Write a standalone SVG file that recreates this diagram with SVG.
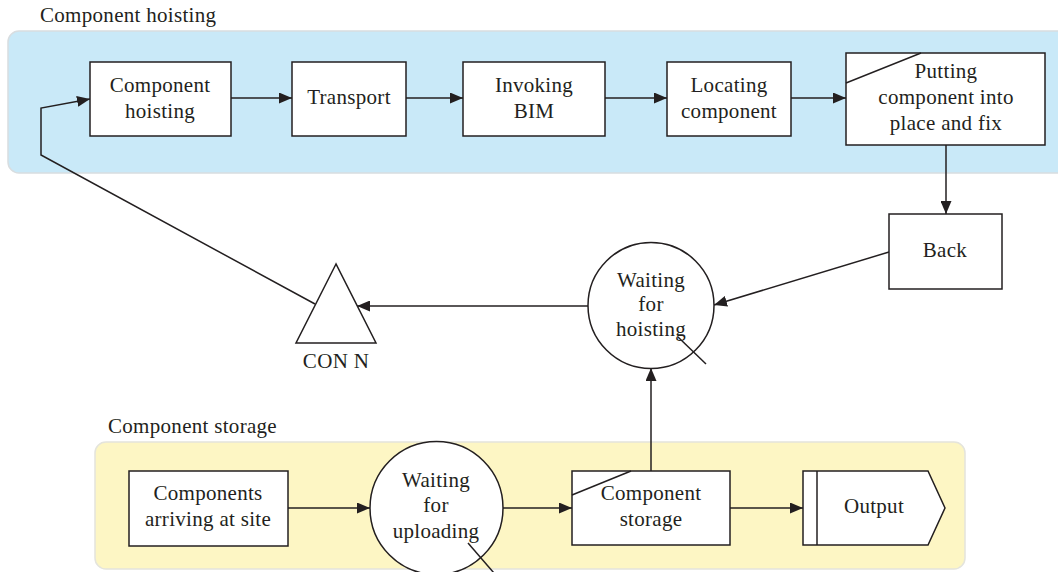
<svg xmlns="http://www.w3.org/2000/svg" width="1058" height="572" viewBox="0 0 1058 572">
  <style>
    .panel-blue { fill: #c9e9f8; stroke: #d8dde0; stroke-width: 1.5; }
    .panel-yellow { fill: #fdf6c4; stroke: #e4e4dc; stroke-width: 1.5; }
    .node { fill: #ffffff; stroke: #231f20; stroke-width: 1.5; }
    .line { fill: none; stroke: #231f20; stroke-width: 1.5; }
    .label { font-family: "Liberation Serif", "DejaVu Serif", serif; font-size: 21px; letter-spacing: 0.3px; fill: #231f20; text-anchor: middle; }
    .title { font-family: "Liberation Serif", "DejaVu Serif", serif; font-size: 21px; letter-spacing: 0.3px; fill: #231f20; }
  </style>
  <defs>
    <marker id="arrow" viewBox="0 0 13 11" refX="13" refY="5.5" markerWidth="13" markerHeight="11" markerUnits="userSpaceOnUse" orient="auto">
      <path d="M0,0 L13,5.5 L0,11 Z" fill="#231f20"/>
    </marker>
  </defs>

  <!-- swimlane panels -->
  <g id="panels">
    <rect class="panel-blue" x="8" y="31" width="1070" height="142" rx="11"/>
    <text class="title" x="40" y="22">Component hoisting</text>
    <rect class="panel-yellow" x="95" y="442" width="870" height="127" rx="11"/>
    <text class="title" x="108" y="433">Component storage</text>
  </g>

  <!-- connectors -->
  <g id="connectors">
    <line class="line" x1="231" y1="98" x2="292" y2="98" marker-end="url(#arrow)"/>
    <line class="line" x1="406" y1="98" x2="463" y2="98" marker-end="url(#arrow)"/>
    <line class="line" x1="605" y1="98" x2="667" y2="98" marker-end="url(#arrow)"/>
    <line class="line" x1="791" y1="98" x2="846" y2="98" marker-end="url(#arrow)"/>
    <line class="line" x1="946" y1="145" x2="946" y2="214" marker-end="url(#arrow)"/>
    <line class="line" x1="889" y1="252" x2="714" y2="305" marker-end="url(#arrow)"/>
    <line class="line" x1="588" y1="306" x2="357" y2="306" marker-end="url(#arrow)"/>
    <polyline class="line" points="315,304 41,155 41,108 90,99" marker-end="url(#arrow)"/>
    <line class="line" x1="651" y1="471" x2="651" y2="368" marker-end="url(#arrow)"/>
    <line class="line" x1="288" y1="508" x2="370" y2="508" marker-end="url(#arrow)"/>
    <line class="line" x1="503" y1="508" x2="572" y2="508" marker-end="url(#arrow)"/>
    <line class="line" x1="730" y1="508" x2="803" y2="508" marker-end="url(#arrow)"/>
  </g>

  <!-- hoisting lane -->
  <g id="component-hoisting">
    <rect class="node" x="90" y="62" width="141" height="74"/>
    <text class="label" x="160" y="92">Component</text>
    <text class="label" x="160" y="118">hoisting</text>
  </g>
  <g id="transport">
    <rect class="node" x="292" y="62" width="114" height="74"/>
    <text class="label" x="349" y="104">Transport</text>
  </g>
  <g id="invoking-bim">
    <rect class="node" x="463" y="62" width="142" height="74"/>
    <text class="label" x="534" y="92">Invoking</text>
    <text class="label" x="534" y="118">BIM</text>
  </g>
  <g id="locating-component">
    <rect class="node" x="667" y="62" width="124" height="74"/>
    <text class="label" x="729" y="92">Locating</text>
    <text class="label" x="729" y="118">component</text>
  </g>
  <g id="putting-into-place">
    <rect class="node" x="846" y="53" width="199" height="92"/>
    <line class="line" x1="846" y1="83" x2="921" y2="53"/>
    <text class="label" x="946" y="78">Putting</text>
    <text class="label" x="946" y="104">component into</text>
    <text class="label" x="946" y="130">place and fix</text>
  </g>
  <g id="back">
    <rect class="node" x="889" y="214" width="113" height="75"/>
    <text class="label" x="945" y="257">Back</text>
  </g>
  <g id="waiting-for-hoisting">
    <circle class="node" cx="651" cy="305.5" r="63"/>
    <line class="line" x1="678" y1="337" x2="706" y2="364"/>
    <text class="label" x="651" y="287">Waiting</text>
    <text class="label" x="651" y="311">for</text>
    <text class="label" x="651" y="336">hoisting</text>
  </g>
  <g id="con-n">
    <polygon class="node" points="336,264 296,343 376,343"/>
    <text class="label" x="336" y="368">CON N</text>
  </g>

  <!-- storage lane -->
  <g id="components-arriving">
    <rect class="node" x="129" y="471" width="159" height="75"/>
    <text class="label" x="208" y="500">Components</text>
    <text class="label" x="208" y="526">arriving at site</text>
  </g>
  <g id="waiting-for-uploading">
    <circle class="node" cx="436.5" cy="508" r="66.5"/>
    <line class="line" x1="468" y1="543" x2="500" y2="580"/>
    <text class="label" x="436" y="487">Waiting</text>
    <text class="label" x="436" y="512">for</text>
    <text class="label" x="436" y="538">uploading</text>
  </g>
  <g id="component-storage">
    <rect class="node" x="572" y="471" width="158" height="74"/>
    <line class="line" x1="572" y1="495" x2="631" y2="471"/>
    <text class="label" x="651" y="500">Component</text>
    <text class="label" x="651" y="526">storage</text>
  </g>
  <g id="output">
    <polygon class="node" points="803,471 928,471 945,508 928,545 803,545"/>
    <line class="line" x1="817" y1="471" x2="817" y2="545"/>
    <text class="label" x="874" y="513">Output</text>
  </g>
</svg>
